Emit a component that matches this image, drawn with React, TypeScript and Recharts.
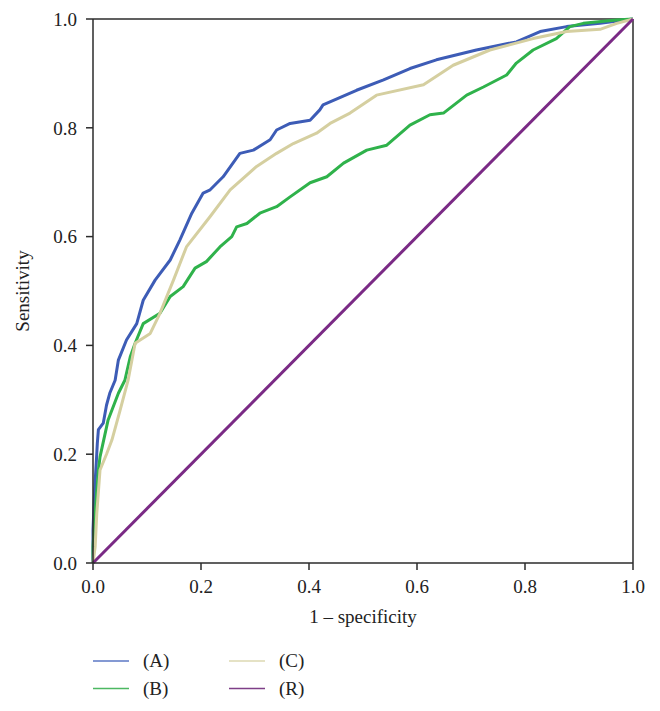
import { LineChart, Line, XAxis, YAxis, ReferenceLine } from "recharts";

// ROC points: [1 - specificity, sensitivity]
const curveA: [number, number][] = [
  [0, 0], [0, 0.06], [0.002, 0.11], [0.004, 0.15], [0.006, 0.183], [0.008, 0.22],
  [0.01, 0.245], [0.019, 0.257], [0.025, 0.29], [0.031, 0.312], [0.041, 0.336],
  [0.047, 0.373], [0.062, 0.41], [0.081, 0.44], [0.093, 0.483], [0.115, 0.52],
  [0.143, 0.557], [0.161, 0.594], [0.183, 0.643], [0.204, 0.68], [0.217, 0.686],
  [0.241, 0.71], [0.272, 0.753], [0.297, 0.759], [0.328, 0.778], [0.34, 0.796],
  [0.365, 0.808], [0.402, 0.814], [0.42, 0.833], [0.426, 0.842], [0.488, 0.869],
  [0.538, 0.888], [0.587, 0.909], [0.636, 0.925], [0.71, 0.943], [0.784, 0.958],
  [0.828, 0.977], [0.877, 0.986], [0.939, 0.992], [1, 1],
];

const curveB: [number, number][] = [
  [0, 0], [0, 0.03], [0.004, 0.091], [0.01, 0.171], [0.013, 0.195], [0.028, 0.263],
  [0.047, 0.312], [0.059, 0.336], [0.069, 0.379], [0.078, 0.404], [0.093, 0.44],
  [0.124, 0.459], [0.143, 0.49], [0.167, 0.508], [0.189, 0.542], [0.21, 0.554],
  [0.235, 0.581], [0.257, 0.6], [0.266, 0.618], [0.285, 0.624], [0.309, 0.643],
  [0.34, 0.655], [0.365, 0.673], [0.402, 0.699], [0.433, 0.71], [0.464, 0.735],
  [0.507, 0.759], [0.544, 0.768], [0.587, 0.805], [0.624, 0.824], [0.649, 0.827],
  [0.692, 0.86], [0.723, 0.875], [0.766, 0.897], [0.784, 0.919], [0.815, 0.943],
  [0.858, 0.964], [0.883, 0.986], [0.908, 0.992], [0.969, 0.998], [1, 1],
];

const curveC: [number, number][] = [
  [0, 0], [0.004, 0.03], [0.007, 0.091], [0.013, 0.171], [0.025, 0.2], [0.035, 0.226],
  [0.05, 0.28], [0.065, 0.336], [0.078, 0.404], [0.106, 0.422], [0.124, 0.459],
  [0.149, 0.52], [0.173, 0.581], [0.217, 0.637], [0.254, 0.686], [0.303, 0.729],
  [0.34, 0.753], [0.371, 0.771], [0.414, 0.79], [0.439, 0.808], [0.476, 0.827],
  [0.525, 0.86], [0.612, 0.879], [0.667, 0.915], [0.735, 0.943], [0.815, 0.964],
  [0.877, 0.977], [0.939, 0.981], [0.97, 0.992], [1, 1],
];

const curveR: [number, number][] = [[0, 0], [1, 1]];

const axisTicks = [0, 0.2, 0.4, 0.6, 0.8, 1.0];

const series = [
  { name: "(A)", points: curveA, color: "#3d5cb6", legend: "#5b77c4", width: 3 },
  { name: "(B)", points: curveB, color: "#2fb24b", legend: "#4cb862", width: 3 },
  { name: "(C)", points: curveC, color: "#d5cfa0", legend: "#dcd8b2", width: 3 },
  { name: "(R)", points: curveR, color: "#7a2a85", legend: "#7e3f87", width: 3 },
];

const FONT = "'Liberation Serif', 'Times New Roman', serif";
const FS = 19;
const AXIS = "#2b2b2b";

const toRows = (pts: [number, number][]) => pts.map(([x, y]) => ({ x, y }));

function Legend() {
  // two columns, two rows: (A) (C) / (B) (R)
  const cols = [
    [series[0], series[1]],
    [series[2], series[3]],
  ];
  return (
    <svg width={652} height={63} style={{ position: "absolute", left: 0, top: 640 }}>
      {cols.map((col, ci) =>
        col.map((s, ri) => {
          const x0 = 85 + ci * 136;
          const y = 13 + ri * 27.5;
          return (
            <g key={s.name}>
              <line x1={x0} x2={x0 + 36} y1={y} y2={y} stroke={s.legend} strokeWidth={1.6} />
              <text x={x0 + 50} y={y + 6} fontFamily={FONT} fontSize={FS} fill="#222">
                {s.name}
              </text>
            </g>
          );
        })
      )}
    </svg>
  );
}

export default function App() {
  return (
    <div style={{ position: "relative", width: 652, height: 703 }}>
      <LineChart
        width={652}
        height={640}
        margin={{ top: 11, right: 27, bottom: 15, left: 0 }}
      >
        <XAxis
          dataKey="x"
          type="number"
          domain={[0, 1]}
          ticks={axisTicks}
          tickFormatter={(v: number) => v.toFixed(1)}
          height={70}
          tickSize={7}
          tickMargin={10}
          stroke={AXIS}
          strokeWidth={1.5}
          tick={{ fontSize: FS, fontFamily: FONT, fill: "#222" }}
          label={{
            content: (p: any) => {
              const vb = p.viewBox;
              return (
                <text
                  x={vb.x + vb.width / 2}
                  y={vb.y + 60}
                  textAnchor="middle"
                  fontFamily={FONT}
                  fontSize={FS}
                  fill="#222"
                >
                  1 – specificity
                </text>
              );
            },
          }}
        />
        <YAxis
          dataKey="y"
          type="number"
          domain={[0, 1]}
          ticks={axisTicks}
          tickFormatter={(v: number) => v.toFixed(1)}
          width={85}
          tickSize={7}
          tickMargin={9}
          stroke={AXIS}
          strokeWidth={1.5}
          tick={{ fontSize: FS, fontFamily: FONT, fill: "#222" }}
          label={{
            content: (p: any) => {
              const vb = p.viewBox;
              const cx = 21;
              const cy = vb.y + vb.height / 2;
              return (
                <text
                  x={cx}
                  y={cy}
                  transform={`rotate(-90 ${cx} ${cy})`}
                  textAnchor="middle"
                  fontFamily={FONT}
                  fontSize={FS}
                  fill="#222"
                >
                  Sensitivity
                </text>
              );
            },
          }}
        />
        <ReferenceLine y={1} stroke={AXIS} strokeWidth={1.5} />
        <ReferenceLine x={1} stroke={AXIS} strokeWidth={1.5} />
        {series.map((s) => (
          <Line
            key={s.name}
            data={toRows(s.points)}
            dataKey="y"
            type="linear"
            stroke={s.color}
            strokeWidth={s.width}
            strokeLinejoin="round"
            dot={false}
            isAnimationActive={false}
          />
        ))}
      </LineChart>
      <Legend />
    </div>
  );
}
